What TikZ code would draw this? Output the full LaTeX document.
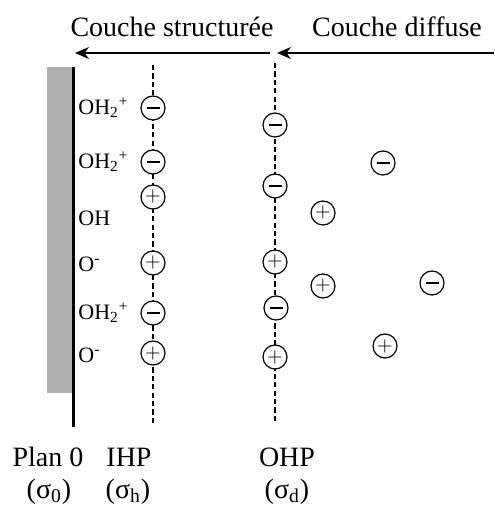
\documentclass[tikz,border=0pt]{standalone}
\usepackage{fontspec}
\setmainfont{Liberation Serif}
\usetikzlibrary{arrows.meta, positioning}

\begin{document}
\begin{tikzpicture}[
    x=0.5pt, y=-0.5pt,
    ion/.style={circle, draw, line width=0.6pt, fill=white,
                minimum size=12pt, inner sep=0pt},
    cation/.style={ion, font=\fontsize{10}{10}\selectfont},
    anion/.style={ion},
    site/.style={anchor=west, inner sep=0pt,
                 font=\fontsize{11}{12}\selectfont},
    title/.style={anchor=base, inner sep=0pt,
                  font=\fontsize{14}{16}\selectfont},
    plane/.style={line width=0.6pt, dash pattern=on 2.6pt off 1.6pt},
    span/.style={line width=0.6pt, -{Stealth[length=7pt, width=6pt]}}
  ]
  \useasboundingbox (0,0) rectangle (494,506);

  % solid surface
  \fill[gray!62] (47,67) rectangle (72,393);
  \coordinate (surftop) at (73,67);
  \coordinate (surfbot) at (73,427);
  \draw[line width=1.5pt] (surftop) -- (surfbot);

  % IHP and OHP planes
  \coordinate (ihptop) at (153,65);
  \coordinate (ihpbot) at (153,423);
  \coordinate (ohptop) at (275,63);
  \coordinate (ohpbot) at (275,423);
  \draw[plane] (ihptop) -- (ihpbot);
  \draw[plane] (ohptop) -- (ohpbot);

  % layer arrows
  \coordinate (sl) at (75,53);
  \coordinate (sr) at (270,53);
  \coordinate (dl) at (277,53);
  \coordinate (dr) at (494,53);
  \draw[span, {Stealth[length=7pt, width=6pt]}-] (sl) -- (sr);
  \draw[span] (dr) -- (dl);
  \node[title] (struct) at (172,37) {Couche structurée};
  \node[title] (diff) at (397,37) {Couche diffuse};

  % surface sites
  \node[site] (s1) at (78,108) {OH\textsubscript{2}\textsuperscript{+}};
  \node[site] (s2) at (78,162) {OH\textsubscript{2}\textsuperscript{+}};
  \node[site] (s3) at (78,218) {OH};
  \node[site] (s4) at (78,264) {O\textsuperscript{-}};
  \node[site] (s5) at (78,313) {OH\textsubscript{2}\textsuperscript{+}};
  \node[site] (s6) at (78,355) {O\textsuperscript{-}};

  % ions on the IHP
  \node[anion] (i1) at (153,108) {\rule{6.5pt}{1.4pt}};
  \node[anion] (i2) at (153,162) {\rule{6.5pt}{1.4pt}};
  \node[cation] (i3) at (153,197) {$+$};
  \node[cation] (i4) at (153,263) {$+$};
  \node[anion] (i5) at (153,313) {\rule{6.5pt}{1.4pt}};
  \node[cation] (i6) at (153,353) {$+$};

  % ions on the OHP
  \node[anion] (o1) at (275,125) {\rule{6.5pt}{1.4pt}};
  \node[anion] (o2) at (275,186) {\rule{6.5pt}{1.4pt}};
  \node[cation] (o3) at (275,262) {$+$};
  \node[anion] (o4) at (276,308) {\rule{6.5pt}{1.4pt}};
  \node[cation] (o5) at (275,357) {$+$};

  % diffuse layer
  \node[anion] (d1) at (383,163) {\rule{6.5pt}{1.4pt}};
  \node[cation] (d2) at (323,213) {$+$};
  \node[cation] (d3) at (323,286) {$+$};
  \node[anion] (d4) at (432,283) {\rule{6.5pt}{1.4pt}};
  \node[cation] (d5) at (385,346) {$+$};

  % plane names
  \node[title] (p0) at (48,466) {Plan 0};
  \node[title] (pihp) at (129,466) {IHP};
  \node[title] (pohp) at (287,466) {OHP};
  \node[title] (q0) at (49,498) {(σ\textsubscript{0})};
  \node[title] (qh) at (128,498) {(σ\textsubscript{h})};
  \node[title] (qd) at (287,498) {(σ\textsubscript{d})};
\end{tikzpicture}
\end{document}
